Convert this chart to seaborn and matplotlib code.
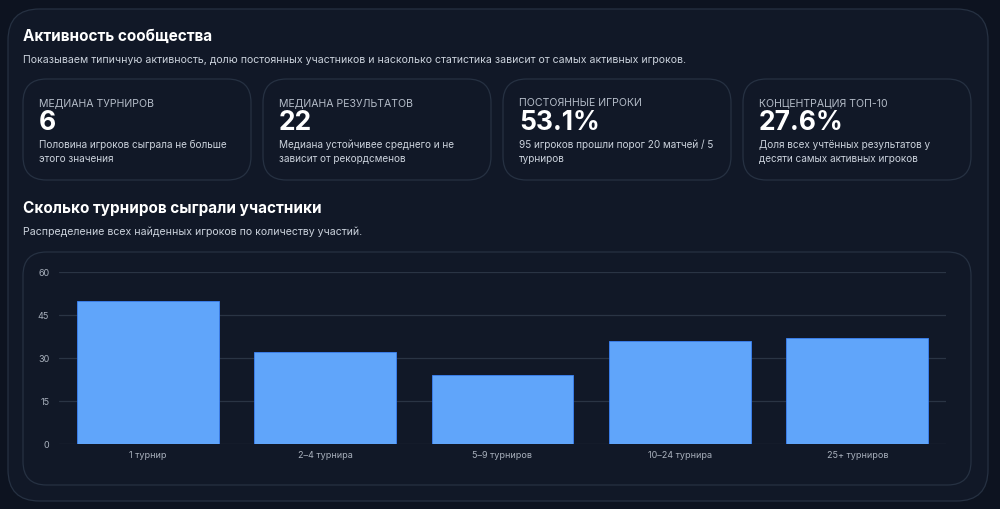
import matplotlib
matplotlib.use("Agg")
import numpy as np
import seaborn as sns
import matplotlib.pyplot as plt
from matplotlib.patches import FancyBboxPatch

# данные
categories = ["1 турнир", "2–4 турнира", "5–9 турниров", "10–24 турнира", "25+ турниров"]
players = [50, 32, 24, 36, 37]
yticks = [0, 15, 30, 45, 60]

kpi_labels = ["МЕДИАНА ТУРНИРОВ", "МЕДИАНА РЕЗУЛЬТАТОВ", "ПОСТОЯННЫЕ ИГРОКИ", "КОНЦЕНТРАЦИЯ ТОП-10"]
kpi_values = ["6", "22", "53.1%", "27.6%"]
kpi_notes = ["Половина игроков сыграла не больше\nэтого значения",
             "Медиана устойчивее среднего и не\nзависит от рекордсменов",
             "95 игроков прошли порог 20 матчей / 5\nтурниров",
             "Доля всех учтённых результатов у\nдесяти самых активных игроков"]

sns.set_theme(style="dark")
plt.rcParams["font.family"] = ["Inter", "DejaVu Sans"]

bg = "#0d1320"
card = "#111827"
border = "#263142"
bar_color = "#60a5fa"
W, H = 1000, 510

fig = plt.figure(figsize=(10, 5.1), dpi=100, facecolor=bg)

def box(x0, y0, x1, y1, r):
    # координаты в пикселях от верхнего левого угла
    p = FancyBboxPatch((x0 / W, 1 - y1 / H), (x1 - x0) / W, (y1 - y0) / H,
                       boxstyle="round,pad=0,rounding_size=%f" % (r / H),
                       transform=fig.transFigure, facecolor=card, edgecolor=border,
                       linewidth=0.9, mutation_aspect=W / H, zorder=-5)
    fig.patches.append(p)

def txt(x, y, s, **kw):
    fig.text(x / W, 1 - y / H, s, va="center", ha="left", **kw)

box(8, 10, 988, 502, 16)

txt(23, 36, "Активность сообщества", fontsize=11, fontweight="bold", color="white")
txt(23, 60, "Показываем типичную активность, долю постоянных участников и насколько статистика зависит от самых активных игроков.",
    fontsize=7.6, color="#cbd2dc")

for i in range(4):
    x0 = 23 + i * 240
    box(x0, 80, x0 + 228, 181, 12)
    txt(x0 + 16, 103, kpi_labels[i], fontsize=7.6, color="#b4bcc8")
    txt(x0 + 16, 123, kpi_values[i], fontsize=19, fontweight="bold", color="white")
    txt(x0 + 16, 152, kpi_notes[i], fontsize=7.2, color="#cbd2dc", linespacing=1.5)

txt(23, 209, "Сколько турниров сыграли участники", fontsize=11, fontweight="bold", color="white")
txt(23, 232, "Распределение всех найденных игроков по количеству участий.", fontsize=7.6, color="#cbd2dc")

box(23, 253, 971, 486, 12)

ax = fig.add_axes([59 / W, 1 - 445 / H, (946 - 59) / W, (445 - 273) / H])
ax.set_zorder(5)
ax.set_facecolor("none")
sns.barplot(x=categories, y=players, color=bar_color, saturation=1, width=0.8,
            edgecolor="#3b82f6", linewidth=0.6, ax=ax, zorder=3)
ax.set_ylim(0, 60)
ax.set_xlim(-0.5, 4.5)
ax.set_yticks(yticks)
ax.set_axisbelow(True)
ax.grid(axis="y", color="#2a3444", linewidth=0.9)
ax.grid(axis="x", visible=False)
for s in ax.spines.values():
    s.set_visible(False)
ax.tick_params(axis="y", length=0, pad=7, labelsize=6.5, labelcolor="#a9b1bd")
ax.tick_params(axis="x", length=0, pad=4, labelsize=6.5, labelcolor="#a9b1bd")
ax.set_xlabel("")
ax.set_ylabel("")

fig.savefig("out.png", dpi=100, facecolor=bg)
